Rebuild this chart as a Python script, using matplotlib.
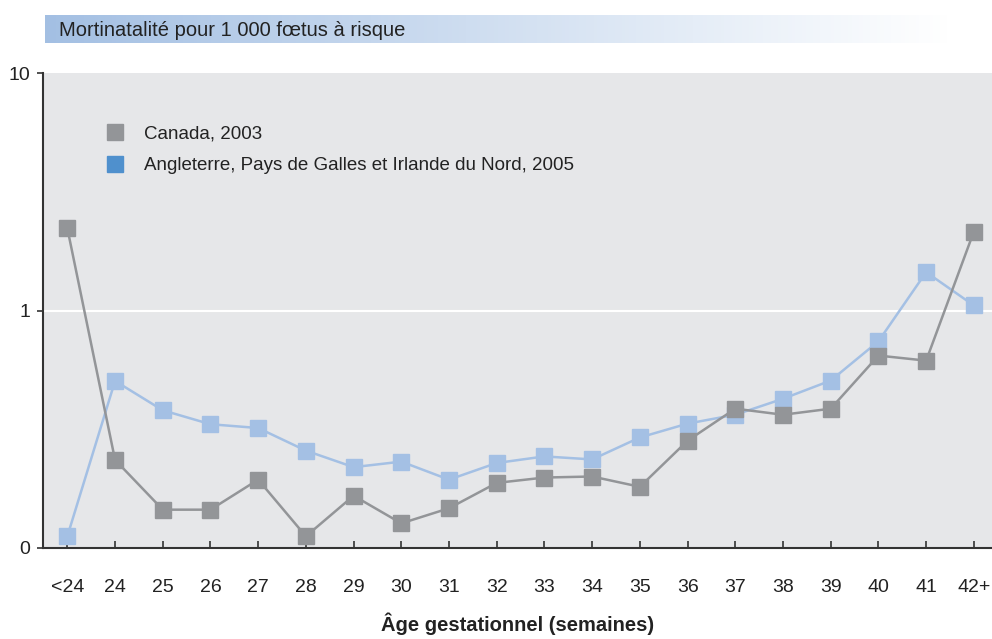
import matplotlib.pyplot as plt
import numpy as np
from matplotlib.lines import Line2D

plt.rcParams['font.family'] = ['Liberation Sans Narrow', 'Liberation Sans', 'DejaVu Sans']

# data (stillbirths per 1 000 foetuses at risk, log scale)
weeks = ['<24', '24', '25', '26', '27', '28', '29', '30', '31', '32',
         '33', '34', '35', '36', '37', '38', '39', '40', '41', '42+']
canada = [2.22, 0.235, 0.145, 0.145, 0.194, 0.112, 0.166, 0.127, 0.147, 0.188,
          0.198, 0.200, 0.181, 0.283, 0.386, 0.364, 0.386, 0.646, 0.615, 2.15]
england = [0.112, 0.505, 0.380, 0.332, 0.320, 0.257, 0.219, 0.231, 0.194, 0.228,
           0.243, 0.236, 0.292, 0.334, 0.364, 0.425, 0.507, 0.742, 1.45, 1.05]

grey = '#939598'
blue = '#a4c0e4'
legend_blue = '#4f90cd'

fig = plt.figure(figsize=(9.92, 6.39), dpi=100)

# title band with gradient
band = fig.add_axes([45 / 992, 1 - 43 / 639, 905 / 992, 28 / 639])
grad = np.linspace(0, 1, 256).reshape(1, -1)
c0 = np.array([0.64, 0.75, 0.89])
c1 = np.array([1.0, 1.0, 1.0])
img = c0[None, None, :] * (1 - grad[..., None]) + c1[None, None, :] * grad[..., None]
band.imshow(img, aspect='auto', extent=[0, 1, 0, 1])
band.set_axis_off()
band.text(0.016, 0.45, 'Mortinatalité pour 1 000 fœtus à risque', fontsize=14.5,
          color='#222222', va='center', ha='left', transform=band.transAxes)

ax = fig.add_axes([43 / 992, 1 - 548 / 639, 949 / 992, 475 / 639])
ax.set_facecolor('#e6e7e9')

x = np.arange(len(weeks))
ax.plot(x, england, color=blue, lw=1.8, marker='s', ms=11.5, mec=blue, mfc=blue, zorder=3)
ax.plot(x, canada, color=grey, lw=1.8, marker='s', ms=11.5, mec=grey, mfc=grey, zorder=4)

ax.set_yscale('log')
ax.set_ylim(0.1, 10)
ax.set_xlim(-0.51, 19.38)
ax.set_yticks([0.1, 1, 10])
ax.set_yticklabels(['0', '1', '10'])
ax.yaxis.set_minor_locator(plt.NullLocator())
ax.axhline(1, color='white', lw=1.5, zorder=1)

ax.set_xticks(x)
ax.set_xticklabels(weeks)
ax.tick_params(axis='x', direction='in', length=5, width=1.2, color='#333333',
               labelsize=14, pad=22, labelcolor='#222222')
ax.tick_params(axis='y', direction='out', length=4, width=1.2, color='#333333',
               labelsize=14, pad=5, labelcolor='#222222')

for s in ['top', 'right']:
    ax.spines[s].set_visible(False)
for s in ['left', 'bottom']:
    ax.spines[s].set_linewidth(1.5)
    ax.spines[s].set_color('#333333')

ax.set_xlabel('Âge gestationnel (semaines)', fontsize=14.5, fontweight='bold',
              labelpad=12, color='#222222')

handles = [
    Line2D([], [], ls='none', marker='s', ms=12, mfc=grey, mec=grey),
    Line2D([], [], ls='none', marker='s', ms=12, mfc=legend_blue, mec=legend_blue),
]
labels = ['Canada, 2003', 'Angleterre, Pays de Galles et Irlande du Nord, 2005']
ax.legend(handles, labels, loc='upper left', bbox_to_anchor=(0.038, 0.925),
          frameon=False, fontsize=13.5, handletextpad=0.55, labelspacing=0.78,
          labelcolor='#222222')

plt.savefig('out.png', dpi=100)
